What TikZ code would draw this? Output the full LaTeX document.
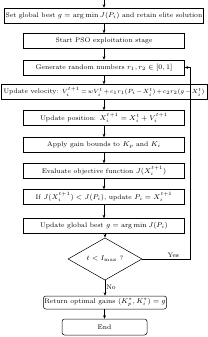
\documentclass[tikz,border=0pt]{standalone}
\usetikzlibrary{shapes.geometric,arrows.meta}
\begin{document}
\begin{tikzpicture}[x=1pt,y=-1pt,
  every node/.style={font=\fontsize{6.7}{8}\selectfont},
  box/.style={draw,line width=0.5pt,minimum height=15pt,inner sep=1pt,anchor=center},
  rbox/.style={box,rounded corners=2.5pt},
  dec/.style={draw,line width=0.5pt,diamond,minimum width=74pt,minimum height=28pt,inner sep=0pt},
  arr/.style={line width=0.5pt,-{Stealth[length=3.5pt,width=2.8pt]}},
  lbl/.style={inner sep=1pt}]
\useasboundingbox (0,0) rectangle (208,337);
\coordinate (top) at (104,0);
\node[box,minimum width=195pt] (b1) at (104,15.5) {Set global best $g=\arg\min J(P_i)$ and retain elite solution};
\node[box,minimum width=161pt] (b2) at (104,41) {Start PSO exploitation stage};
\node[box,minimum width=161pt] (b3) at (104,67.5) {Generate random numbers $r_1,r_2\in[0,1]$};
\node[box,minimum width=206pt,inner sep=0.5pt] (b4) at (104,92) {Update velocity: {\fontsize{5.9}{7}\selectfont\medmuskip=2mu\thickmuskip=3mu$V_i^{t+1}=wV_i^t+c_1r_1(P_i-X_i^t)+c_2r_2(g-X_i^t)$}};
\node[box,minimum width=161pt] (b5) at (104,118) {Update position: $X_i^{t+1}=X_i^t+V_i^{t+1}$};
\node[box,minimum width=161pt] (b6) at (104,145) {Apply gain bounds to $K_p$ and $K_i$};
\node[box,minimum width=161pt] (b7) at (104,171) {Evaluate objective function $J(X_i^{t+1})$};
\node[box,minimum width=161pt] (b8) at (104,197) {If $J(X_i^{t+1})<J(P_i)$, update $P_i=X_i^{t+1}$};
\node[box,minimum width=161pt] (b9) at (104,226) {Update global best $g=\arg\min J(P_i)$};
\node[dec] (d) at (105,259) {$t<I_{\max}$ ?};
\node[rbox,minimum width=122pt,minimum height=13pt] (ret) at (105,302.5) {Return optimal gains $(K_p^*,K_i^*)=g$};
\node[rbox,minimum width=85pt,minimum height=16pt] (end) at (104.5,327) {End};
\coordinate (lx) at (190,0);
\draw[arr] (top) -- (b1);
\draw[arr] (b1) -- (b2);
\draw[arr] (b2) -- (b3);
\draw[arr] (b3) -- (b4);
\draw[arr] (b4) -- (b5);
\draw[arr] (b5) -- (b6);
\draw[arr] (b6) -- (b7);
\draw[arr] (b7) -- (b8);
\draw[arr] (b8) -- (b9);
\draw[arr] (b9.south -| d.north) -- (d.north);
\draw[arr] (d) -- node[lbl,right,pos=0.45] {No} (ret);
\draw[arr] (ret.south -| end.north) -- (end);
\draw[arr] (d.east) -- node[lbl,above,pos=0.65] {Yes} (d.east -| lx) -- (b3.east -| lx) -- (b3.east);
\end{tikzpicture}
\end{document}
